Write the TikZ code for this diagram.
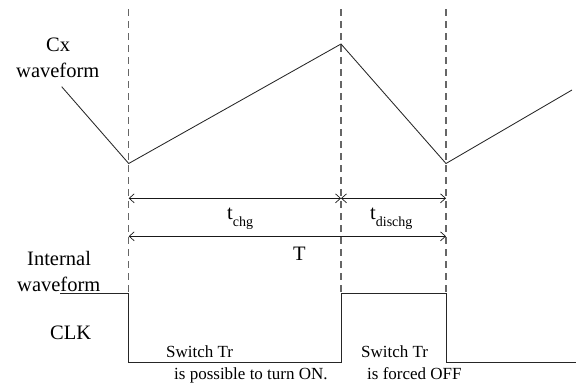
\documentclass[tikz,border=0pt]{standalone}
\usepackage{fontspec}
\setmainfont{Liberation Serif}
\usetikzlibrary{arrows.meta}
\tikzset{
  wave/.style={line width=0.85pt,line join=miter,color=black!85},
  guide/.style={line width=1.1pt,color=black!60,dash pattern=on 7pt off 5pt},
  span/.style={line width=0.8pt,color=black!90,{Straight Barb[length=5pt,width=9pt,line width=0.7pt]}-{Straight Barb[length=5pt,width=9pt,line width=0.7pt]}},
  big/.style={inner sep=0pt,anchor=base west,font=\fontsize{20.5}{24}\selectfont},
  small/.style={inner sep=0pt,anchor=base west,font=\fontsize{17}{20}\selectfont},
}
\begin{document}
\begin{tikzpicture}[x=1pt,y=-1pt]
\useasboundingbox (0,0) rectangle (579,383);
% guides
\coordinate (g1t) at (128.7,9); \coordinate (g1b) at (128.7,293);
\coordinate (g2t) at (341,9);   \coordinate (g2b) at (341,293);
\coordinate (g3t) at (446,9);   \coordinate (g3b) at (446,293);
\draw[guide] (g1t) -- (g1b);
\draw[guide] (g2t) -- (g2b);
\draw[guide] (g3t) -- (g3b);
% Cx waveform
\coordinate (c0) at (61.7,86.7);
\coordinate (c1) at (128.7,163.5);
\coordinate (c2) at (341,44);
\coordinate (c3) at (446,163.5);
\coordinate (c4) at (572,90);
\draw[wave] (c0) -- (c1) -- (c2) -- (c3) -- (c4);
% CLK
\coordinate (k0) at (60,293);
\coordinate (k1) at (128.7,293);
\coordinate (k2) at (128.7,362);
\coordinate (k3) at (341,362);
\coordinate (k4) at (341,293);
\coordinate (k5) at (446,293);
\coordinate (k6) at (446,362);
\coordinate (k7) at (576,362);
\draw[wave] (k0) -- (k1) -- (k2) -- (k3) -- (k4) -- (k5) -- (k6) -- (k7);
% spans
\coordinate (s1) at (128.7,198.3);
\coordinate (s2) at (341,198.3);
\coordinate (s3) at (446,198.3);
\coordinate (s4) at (128.7,236.3);
\coordinate (s5) at (446,236.3);
\draw[span] (s1) -- (s2);
\draw[span] (s2) -- (s3);
\draw[span] (s4) -- (s5);
% labels
\node[big] (cx) at (46,51) {Cx};
\node[big] (cxw) at (16,77) {waveform};
\node[big] (int) at (27,265) {Internal};
\node[big] (intw) at (17,291) {waveform};
\node[big] (clk) at (50,339) {CLK};
\node[big] (tchg) at (227,219) {t\raisebox{-7pt}{\fontsize{14}{16}\selectfont chg}};
\node[big] (tdis) at (370,219) {t\raisebox{-7pt}{\fontsize{14}{16}\selectfont dischg}};
\node[big] (tt) at (293,260) {T};
\node[small] (sw1) at (166,357) {Switch Tr};
\node[small] (pos) at (174,379) {is possible to turn ON.};
\node[small] (sw2) at (361,357) {Switch Tr};
\node[small] (off) at (367,379) {is forced OFF};
\end{tikzpicture}
\end{document}
